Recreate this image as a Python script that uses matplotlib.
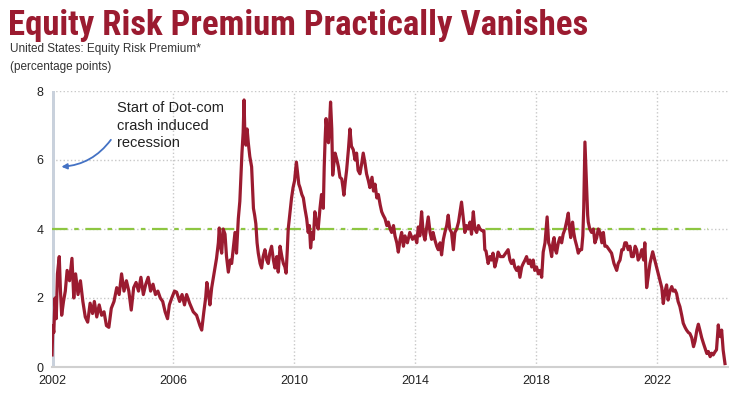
import matplotlib
matplotlib.use("Agg")
import matplotlib.pyplot as plt
import numpy as np

plt.rcParams['font.family'] = ['Liberation Sans', 'DejaVu Sans']

# decimal year, equity risk premium (percentage points)
years = [
    2002.00, 2002.03, 2002.06, 2002.10, 2002.14, 2002.18, 2002.24, 2002.28, 2002.32, 2002.38,
    2002.44, 2002.50, 2002.58, 2002.66, 2002.72, 2002.78, 2002.86, 2002.94, 2003.02, 2003.10,
    2003.18, 2003.26, 2003.34, 2003.40, 2003.48, 2003.56, 2003.64, 2003.72, 2003.80, 2003.88,
    2003.96, 2004.05, 2004.14, 2004.22, 2004.30, 2004.38, 2004.46, 2004.54, 2004.62, 2004.70,
    2004.78, 2004.86, 2004.94, 2005.02, 2005.10, 2005.18, 2005.26, 2005.34, 2005.42, 2005.50,
    2005.58, 2005.66, 2005.74, 2005.82, 2005.88, 2005.96, 2006.05, 2006.12, 2006.22, 2006.30,
    2006.38, 2006.45, 2006.55, 2006.67, 2006.78, 2006.89, 2006.95, 2007.02, 2007.08, 2007.12,
    2007.18, 2007.22, 2007.28, 2007.33, 2007.39, 2007.44, 2007.50, 2007.53, 2007.57, 2007.61,
    2007.66, 2007.72, 2007.77, 2007.83, 2007.89, 2007.94, 2008.00, 2008.05, 2008.10, 2008.16,
    2008.21, 2008.25, 2008.28, 2008.32, 2008.35, 2008.38, 2008.41, 2008.45, 2008.49, 2008.54,
    2008.60, 2008.63, 2008.66, 2008.70, 2008.74, 2008.78, 2008.82, 2008.88, 2008.93, 2008.98,
    2009.04, 2009.10, 2009.15, 2009.20, 2009.26, 2009.32, 2009.37, 2009.43, 2009.48, 2009.54,
    2009.60, 2009.65, 2009.70, 2009.74, 2009.78, 2009.81, 2009.86, 2009.92, 2009.97, 2010.02,
    2010.08, 2010.11, 2010.16, 2010.20, 2010.26, 2010.31, 2010.36, 2010.42, 2010.47, 2010.51,
    2010.55, 2010.60, 2010.64, 2010.69, 2010.74, 2010.80, 2010.86, 2010.91, 2010.97, 2011.00,
    2011.03, 2011.06, 2011.10, 2011.14, 2011.18, 2011.21, 2011.25, 2011.28, 2011.32, 2011.36,
    2011.42, 2011.47, 2011.52, 2011.58, 2011.62, 2011.65, 2011.70, 2011.74, 2011.80, 2011.85,
    2011.90, 2011.96, 2012.02, 2012.07, 2012.12, 2012.18, 2012.24, 2012.29, 2012.35, 2012.40,
    2012.46, 2012.51, 2012.58, 2012.63, 2012.68, 2012.74, 2012.79, 2012.85, 2012.90, 2012.95,
    2013.01, 2013.07, 2013.12, 2013.18, 2013.23, 2013.29, 2013.34, 2013.40, 2013.45, 2013.51,
    2013.56, 2013.62, 2013.67, 2013.75, 2013.83, 2013.92, 2014.00, 2014.06, 2014.11, 2014.16,
    2014.22, 2014.27, 2014.33, 2014.38, 2014.44, 2014.50, 2014.55, 2014.60, 2014.66, 2014.72,
    2014.77, 2014.83, 2014.88, 2014.94, 2014.99, 2015.05, 2015.10, 2015.15, 2015.21, 2015.27,
    2015.32, 2015.38, 2015.44, 2015.49, 2015.54, 2015.60, 2015.65, 2015.70, 2015.76, 2015.82,
    2015.87, 2015.93, 2015.98, 2016.04, 2016.10, 2016.15, 2016.22, 2016.28, 2016.31, 2016.35,
    2016.42, 2016.48, 2016.53, 2016.58, 2016.64, 2016.70, 2016.75, 2016.82, 2016.92, 2017.00,
    2017.08, 2017.14, 2017.19, 2017.25, 2017.30, 2017.36, 2017.42, 2017.47, 2017.53, 2017.58,
    2017.64, 2017.69, 2017.75, 2017.80, 2017.86, 2017.91, 2017.96, 2018.02, 2018.08, 2018.14,
    2018.19, 2018.24, 2018.30, 2018.37, 2018.42, 2018.46, 2018.52, 2018.56, 2018.60, 2018.64,
    2018.68, 2018.74, 2018.79, 2018.85, 2018.90, 2018.96, 2019.01, 2019.07, 2019.11, 2019.15,
    2019.21, 2019.25, 2019.29, 2019.35, 2019.40, 2019.45, 2019.51, 2019.55, 2019.58, 2019.60,
    2019.62, 2019.65, 2019.68, 2019.71, 2019.73, 2019.78, 2019.84, 2019.90, 2019.95, 2020.01,
    2020.06, 2020.12, 2020.18, 2020.23, 2020.28, 2020.34, 2020.42, 2020.50, 2020.58, 2020.67,
    2020.72, 2020.78, 2020.84, 2020.89, 2020.94, 2020.99, 2021.05, 2021.11, 2021.16, 2021.22,
    2021.28, 2021.33, 2021.38, 2021.44, 2021.50, 2021.56, 2021.60, 2021.66, 2021.71, 2021.77,
    2021.86, 2021.93, 2021.99, 2022.04, 2022.10, 2022.16, 2022.21, 2022.27, 2022.32, 2022.37,
    2022.43, 2022.49, 2022.54, 2022.60, 2022.65, 2022.70, 2022.76, 2022.82, 2022.87, 2022.93,
    2022.98, 2023.04, 2023.09, 2023.15, 2023.21, 2023.26, 2023.32, 2023.37, 2023.42, 2023.48,
    2023.54, 2023.59, 2023.65, 2023.70, 2023.76, 2023.81, 2023.86, 2023.92, 2023.97, 2024.03,
    2024.06, 2024.10, 2024.14, 2024.19, 2024.22, 2024.25,
]
erp = [
    0.35, 1.20, 1.00, 2.00, 1.40, 2.70, 3.20, 2.20, 1.50, 1.90,
    2.20, 2.80, 2.50, 3.15, 2.00, 2.70, 2.10, 2.50, 1.90, 1.45,
    1.30, 1.85, 1.55, 1.90, 1.45, 1.80, 1.50, 1.60, 1.20, 1.15,
    1.70, 1.90, 2.30, 2.10, 2.70, 2.20, 2.50, 2.20, 1.65, 2.30,
    2.45, 2.20, 2.60, 2.10, 2.40, 2.60, 2.20, 2.40, 2.10, 2.20,
    2.00, 1.90, 1.60, 1.40, 1.80, 2.00, 2.20, 2.17, 1.90, 2.10,
    1.80, 2.10, 1.85, 1.60, 1.50, 1.20, 1.07, 1.60, 2.00, 2.45,
    2.10, 1.80, 2.30, 2.57, 2.90, 3.15, 3.60, 4.03, 3.50, 3.30,
    4.00, 3.85, 3.20, 2.75, 3.10, 3.00, 3.50, 3.90, 3.30, 4.30,
    4.80, 5.60, 6.20, 6.80, 7.74, 6.60, 6.43, 6.90, 6.50, 6.10,
    5.80, 5.20, 4.60, 4.40, 4.15, 3.60, 3.30, 3.00, 2.87, 3.20,
    3.40, 3.10, 3.00, 3.30, 3.50, 3.10, 2.87, 3.20, 2.75, 3.50,
    3.20, 3.00, 2.90, 2.72, 3.40, 4.00, 4.40, 4.90, 5.20, 5.40,
    5.94, 5.70, 5.30, 5.20, 5.00, 4.90, 4.60, 4.30, 3.90, 4.10,
    3.45, 3.90, 3.70, 4.50, 4.20, 4.00, 4.60, 5.00, 4.60, 5.80,
    6.60, 7.20, 6.80, 6.50, 7.10, 7.68, 6.90, 5.56, 5.90, 6.20,
    6.00, 5.80, 5.50, 5.45, 5.20, 4.98, 5.40, 5.70, 6.30, 6.90,
    6.40, 6.30, 6.00, 6.20, 5.70, 5.60, 5.90, 6.20, 5.90, 5.60,
    5.40, 5.20, 5.50, 5.10, 5.30, 4.90, 5.00, 4.70, 4.50, 4.40,
    4.30, 4.10, 4.20, 4.00, 3.90, 4.10, 3.80, 3.60, 3.33, 3.70,
    3.90, 3.50, 3.80, 3.60, 3.90, 3.70, 3.80, 3.60, 4.06, 3.80,
    4.50, 3.90, 3.68, 4.00, 4.35, 3.90, 3.70, 3.90, 3.68, 3.50,
    3.40, 3.60, 3.25, 3.70, 3.90, 4.10, 4.40, 4.00, 3.90, 3.40,
    3.90, 4.00, 4.20, 4.50, 4.78, 4.30, 3.90, 4.10, 4.00, 4.20,
    3.85, 4.50, 4.00, 3.90, 4.10, 4.00, 3.95, 3.95, 3.40, 3.36,
    3.00, 3.20, 3.10, 3.30, 2.90, 3.10, 3.33, 3.20, 3.20, 3.30,
    3.40, 3.10, 3.00, 3.10, 2.90, 2.80, 2.90, 2.60, 2.90, 3.00,
    3.10, 3.20, 3.00, 3.10, 2.90, 3.10, 2.80, 2.90, 2.70, 2.80,
    2.60, 3.33, 3.60, 4.35, 3.60, 3.50, 3.20, 3.60, 3.75, 3.40,
    3.30, 3.60, 3.75, 3.60, 3.85, 4.00, 4.20, 4.46, 4.00, 3.75,
    4.20, 3.90, 3.70, 3.50, 3.30, 3.40, 3.40, 3.80, 4.60, 5.50,
    6.52, 5.80, 5.00, 4.40, 4.20, 4.00, 3.90, 4.00, 3.60, 3.75,
    4.00, 3.90, 3.60, 3.90, 3.50, 3.50, 3.40, 3.30, 3.00, 2.80,
    3.00, 3.10, 3.40, 3.40, 3.60, 3.60, 3.40, 3.50, 3.20, 3.20,
    3.50, 3.40, 3.10, 3.20, 3.40, 3.10, 3.60, 2.30, 2.60, 3.00,
    3.34, 3.10, 2.90, 2.72, 2.52, 2.30, 1.84, 2.20, 2.38, 1.94,
    2.20, 2.33, 2.20, 2.23, 2.13, 1.90, 1.75, 1.50, 1.27, 1.15,
    1.07, 1.00, 0.97, 0.85, 0.59, 0.75, 1.07, 1.24, 1.07, 0.85,
    0.68, 0.55, 0.39, 0.45, 0.30, 0.40, 0.35, 0.44, 0.50, 1.22,
    0.90, 0.88, 1.07, 0.49, 0.30, 0.10,
]

x_ticks = [2002, 2006, 2010, 2014, 2018, 2022]
y_ticks = [0, 2, 4, 6, 8]
avg_level = 4

fig = plt.figure(figsize=(7.5, 3.99), dpi=100)
ax = fig.add_axes([52 / 750, 32 / 399, 676 / 750, 276 / 399])

ax.axvspan(2002.0, 2002.1, color='#c9d1dc', lw=0, zorder=1)
ax.hlines(avg_level, 2002, 2023.7, colors='#8dc641', lw=1.6,
          linestyles=(0, (7, 3, 2, 3)), zorder=2)
ax.plot(years, erp, color='#9b1b30', lw=2.3, zorder=3)

ax.set_xlim(2002, 2024.35)
ax.set_ylim(0, 8)
ax.set_xticks(x_ticks)
ax.set_yticks(y_ticks)
ax.grid(True, color='#c8c8c8', linestyle=':', lw=1)
ax.set_axisbelow(True)
for s in ['top', 'right', 'left']:
    ax.spines[s].set_visible(False)
ax.spines['bottom'].set_color('#d0d0d0')
ax.spines['bottom'].set_linewidth(1.5)
ax.tick_params(length=0, labelsize=9, colors='#222222', pad=6)

ax.text(2004.15, 7.72, 'Start of Dot-com\ncrash induced\nrecession', fontsize=10.5,
        va='top', ha='left', color='#222222', linespacing=1.35)
ax.annotate('', xy=(2002.22, 5.8), xytext=(2004.0, 6.65),
            arrowprops=dict(arrowstyle='-|>', color='#4472c4', lw=1.3,
                            mutation_scale=8,
                            connectionstyle='arc3,rad=-0.25'))

fig.text(8 / 750, 1 - 35 / 399, 'Equity Risk Premium Practically Vanishes',
         fontsize=25, fontweight='heavy', color='#9b1b30',
         family=['Roboto Condensed', 'Liberation Sans'])
fig.text(10 / 750, 1 - 52 / 399, 'United States: Equity Risk Premium*',
         fontsize=8.5, color='#333333')
fig.text(10 / 750, 1 - 70 / 399, '(percentage points)',
         fontsize=8.5, color='#333333')

fig.savefig('out.png', dpi=100)
